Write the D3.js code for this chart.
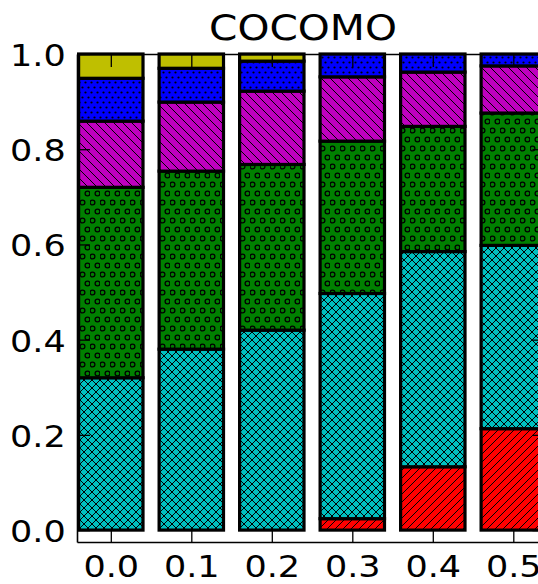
<!DOCTYPE html>
<html>
<head>
<meta charset="utf-8">
<script src="https://cdn.jsdelivr.net/npm/d3@7"></script>
<style>
  html, body { margin: 0; padding: 0; background: #fff; }
  svg { display: block; }
</style>
</head>
<body>
<svg id="chart" width="538" height="584"></svg>
<script>
// Share of each category per threshold (stacked bottom to top)
const categories = [0.0, 0.1, 0.2, 0.3, 0.4, 0.5];
const xTickLabels = ["0.0", "0.1", "0.2", "0.3", "0.4", "0.5"];
const yTickValues = [0.0, 0.2, 0.4, 0.6, 0.8, 1.0];
const yTickLabels = ["0.0", "0.2", "0.4", "0.6", "0.8", "1.0"];

const redShare     = [0.000, 0.000, 0.000, 0.024, 0.133, 0.213];
const cyanShare    = [0.320, 0.380, 0.420, 0.473, 0.452, 0.385];
const greenShare   = [0.400, 0.374, 0.348, 0.320, 0.263, 0.278];
const magentaShare = [0.139, 0.145, 0.154, 0.135, 0.114, 0.099];
const blueShare    = [0.090, 0.071, 0.063, 0.048, 0.038, 0.025];
const yellowShare  = [0.051, 0.030, 0.015, 0.000, 0.000, 0.000];

const seriesKeys = ["red", "cyan", "green", "magenta", "blue", "yellow"];
const seriesValues = [redShare, cyanShare, greenShare, magentaShare, blueShare, yellowShare];
const seriesColors = ["#ff0000", "#00bfbf", "#008000", "#bf00bf", "#0000ff", "#bfbf00"];

const rows = categories.map((c, i) => {
  const r = { cat: c };
  seriesKeys.forEach((k, j) => { r[k] = seriesValues[j][i]; });
  return r;
});

const svg = d3.select("#chart");
const FONT = "'DejaVu Sans', 'Bitstream Vera Sans', sans-serif";
const STRETCH = 1.13;

const x = d3.scaleLinear().domain([-0.042, 0.54]).range([77, 545.5]);
const y = d3.scaleLinear().domain([-0.025, 1.0]).range([542, 54]);
const halfBar = 0.04;

// Hatch patterns, aligned in page space
const defs = svg.append("defs");
function pattern(id, w, h, color, draw) {
  const p = defs.append("pattern")
    .attr("id", id).attr("patternUnits", "userSpaceOnUse")
    .attr("width", w).attr("height", h);
  p.append("rect").attr("width", w).attr("height", h).attr("fill", color);
  draw(p);
}
function line(p, d) {
  p.append("path").attr("d", d).attr("fill", "none")
    .attr("stroke", "#000").attr("stroke-width", 1);
}
// "///"
pattern("h-red", 8, 8, seriesColors[0], p => line(p, "M0,8L8,0M-2,2L2,-2M6,10L10,6"));
// "xxx"
pattern("h-cyan", 8, 8, seriesColors[1], p => {
  line(p, "M0,8L8,0M-2,2L2,-2M6,10L10,6");
  line(p, "M0,0L8,8M-2,6L2,10M6,-2L10,2");
});
// "o"
pattern("h-green", 10, 18, seriesColors[2], p => {
  [[2.5, 4.5], [7.5, 13.5]].forEach(([cx, cy]) =>
    p.append("circle").attr("cx", cx).attr("cy", cy).attr("r", 2.4)
      .attr("fill", "none").attr("stroke", "#000").attr("stroke-width", 1.3));
});
// "\\"
pattern("h-magenta", 9, 9, seriesColors[3], p => line(p, "M0,0L9,9M-2,7L2,11M7,-2L11,2"));
// "."
pattern("h-blue", 6, 10, seriesColors[4], p => {
  [[1.5, 2.5], [4.5, 7.5]].forEach(([cx, cy]) =>
    p.append("circle").attr("cx", cx).attr("cy", cy).attr("r", 1.1).attr("fill", "#000"));
});
// plain
pattern("h-yellow", 4, 4, seriesColors[5], () => {});

const stacked = d3.stack().keys(seriesKeys)(rows);

const bars = svg.append("g");
stacked.forEach(layer => {
  bars.append("g")
    .selectAll("rect")
    .data(layer.filter(d => d[1] - d[0] > 0))
    .join("rect")
    .attr("x", d => x(d.data.cat - halfBar))
    .attr("width", d => x(d.data.cat + halfBar) - x(d.data.cat - halfBar))
    .attr("y", d => y(d[1]))
    .attr("height", d => y(d[0]) - y(d[1]))
    .attr("fill", `url(#h-${layer.key})`)
    .attr("stroke", "#000")
    .attr("stroke-width", 3.2);
});

// Axes with inward ticks on all four sides
const TICK = 13;
function styleAxis(g) {
  g.selectAll(".domain").attr("stroke", "#000").attr("stroke-width", 1.6);
  g.selectAll(".tick line").attr("stroke", "#000").attr("stroke-width", 1.3);
  g.selectAll("text").attr("font-family", FONT).attr("font-size", 31).attr("fill", "#000");
}

const xBottom = svg.append("g").attr("transform", `translate(0,${y(-0.025)})`)
  .call(d3.axisBottom(x).tickValues(categories).tickFormat((d, i) => xTickLabels[i])
    .tickSizeInner(-TICK).tickSizeOuter(0).tickPadding(13));
styleAxis(xBottom);
xBottom.selectAll("text").attr("transform", `scale(${STRETCH},1)`);

const xTop = svg.append("g").attr("transform", `translate(0,${y(1.0)})`)
  .call(d3.axisTop(x).tickValues(categories).tickFormat("")
    .tickSizeInner(-TICK).tickSizeOuter(0));
styleAxis(xTop);

const yLeft = svg.append("g").attr("transform", `translate(${x(-0.042)},0)`)
  .call(d3.axisLeft(y).tickValues(yTickValues).tickFormat((d, i) => yTickLabels[i])
    .tickSizeInner(-TICK).tickSizeOuter(0).tickPadding(10));
styleAxis(yLeft);
yLeft.selectAll("text").attr("dy", "0.37em").attr("transform", `scale(${STRETCH},1)`);

const yRight = svg.append("g").attr("transform", `translate(${x(0.54)},0)`)
  .call(d3.axisRight(y).tickValues(yTickValues).tickFormat("")
    .tickSizeInner(-TICK).tickSizeOuter(0));
styleAxis(yRight);

// Title
svg.append("text")
  .attr("transform", `translate(303,40) scale(${STRETCH},1)`)
  .attr("text-anchor", "middle")
  .attr("font-family", FONT)
  .attr("font-size", 36)
  .attr("fill", "#000")
  .text("COCOMO");
</script>
</body>
</html>
